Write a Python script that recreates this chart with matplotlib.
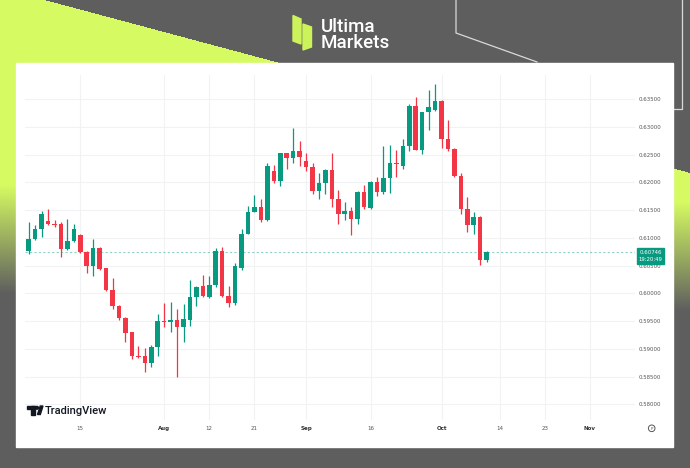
import numpy as np
import matplotlib
matplotlib.use("Agg")
import matplotlib.pyplot as plt
from matplotlib.patches import Rectangle, Polygon, Circle
from matplotlib import transforms

# daily candles, NZD/USD style, early Jul -> 10 Oct
opens = [0.6077, 0.6098, 0.6116, 0.6131, 0.6126, 0.6125, 0.6080, 0.6095, 0.6106, 0.6075,
         0.6049, 0.6082, 0.6045, 0.6007, 0.5978, 0.5956, 0.5930, 0.5888, 0.5887, 0.5875,
         0.5904, 0.5950, 0.5948, 0.5952, 0.5940, 0.5952, 0.5994, 0.6013, 0.5993, 0.6016,
         0.6076, 0.5995, 0.5982, 0.6045, 0.6108, 0.6147, 0.6156, 0.6132, 0.6221, 0.6203,
         0.6253, 0.6244, 0.6257, 0.6238, 0.6228, 0.6185, 0.6199, 0.6223, 0.6170, 0.6144,
         0.6149, 0.6135, 0.6182, 0.6154, 0.6200, 0.6183, 0.6208, 0.6236, 0.6229, 0.6265,
         0.6338, 0.6259, 0.6327, 0.6330, 0.6347, 0.6279, 0.6260, 0.6212, 0.6153, 0.6123,
         0.6137, 0.6060]
highs = [0.6128, 0.6123, 0.6149, 0.6153, 0.6132, 0.6129, 0.6134, 0.6126, 0.6108, 0.6076,
         0.6098, 0.6083, 0.6046, 0.6028, 0.5979, 0.5957, 0.5931, 0.5905, 0.5902, 0.5907,
         0.5962, 0.5982, 0.5985, 0.5972, 0.5980, 0.6025, 0.6013, 0.6034, 0.6031, 0.6081,
         0.6083, 0.6014, 0.6054, 0.6116, 0.6158, 0.6177, 0.6170, 0.6236, 0.6232, 0.6254,
         0.6254, 0.6299, 0.6274, 0.6253, 0.6235, 0.6217, 0.6225, 0.6253, 0.6186, 0.6165,
         0.6156, 0.6185, 0.6196, 0.6202, 0.6209, 0.6266, 0.6268, 0.6259, 0.6278, 0.6341,
         0.6354, 0.6328, 0.6367, 0.6378, 0.6348, 0.6313, 0.6262, 0.6218, 0.6173, 0.6146,
         0.6139, 0.6076]
lows = [0.6071, 0.6096, 0.6102, 0.6123, 0.6119, 0.6065, 0.6078, 0.6092, 0.6072, 0.6036,
        0.6032, 0.6042, 0.6005, 0.5972, 0.5952, 0.5913, 0.5881, 0.5884, 0.5858, 0.5868,
        0.5888, 0.5939, 0.5931, 0.5850, 0.5913, 0.5942, 0.5978, 0.5994, 0.5991, 0.6012,
        0.5994, 0.5975, 0.5979, 0.6042, 0.6107, 0.6146, 0.6128, 0.6131, 0.6199, 0.6194,
        0.6224, 0.6235, 0.6229, 0.6221, 0.6180, 0.6170, 0.6179, 0.6155, 0.6125, 0.6132,
        0.6106, 0.6125, 0.6152, 0.6152, 0.6176, 0.6179, 0.6181, 0.6209, 0.6224, 0.6257,
        0.6258, 0.6251, 0.6295, 0.6329, 0.6263, 0.6257, 0.6210, 0.6144, 0.6111, 0.6107,
        0.6052, 0.6057]
closes = [0.6098, 0.6116, 0.6143, 0.6125, 0.6124, 0.6080, 0.6095, 0.6117, 0.6074, 0.6049,
          0.6082, 0.6044, 0.6006, 0.5978, 0.5956, 0.5929, 0.5887, 0.5886, 0.5875, 0.5904,
          0.5951, 0.5948, 0.5952, 0.5940, 0.5953, 0.5994, 0.6012, 0.5995, 0.6016, 0.6076,
          0.5995, 0.5982, 0.6049, 0.6108, 0.6147, 0.6156, 0.6132, 0.6230, 0.6203, 0.6253,
          0.6244, 0.6257, 0.6246, 0.6228, 0.6185, 0.6199, 0.6223, 0.6171, 0.6144, 0.6149,
          0.6135, 0.6183, 0.6155, 0.6200, 0.6183, 0.6208, 0.6236, 0.6233, 0.6265, 0.6338,
          0.6259, 0.6327, 0.6336, 0.6347, 0.6279, 0.6260, 0.6211, 0.6153, 0.6123, 0.6137,
          0.6060, 0.60746]

# x axis: trading-day index of each label
x_tick_idx = [8, 21, 28, 35, 43, 53, 64, 73, 80, 87]
x_tick_labels = ["15", "Aug", "12", "21", "Sep", "16", "Oct", "14", "23", "Nov"]
month_labels = ["Aug", "Sep", "Oct", "Nov"]
price_levels = [0.580, 0.585, 0.590, 0.595, 0.600, 0.605, 0.610,
                0.615, 0.620, 0.625, 0.630, 0.635]
countdown = "19:20:49"

UP = "#089981"
DOWN = "#f23645"
LIME = np.array([213, 250, 98]) / 255
GREY = np.array([94, 94, 94]) / 255

W, H = 690, 468
fig = plt.figure(figsize=(W / 100, H / 100), dpi=100)

# background layer in pixel coords
bg = fig.add_axes([0, 0, 1, 1])
bg.set_xlim(0, W)
bg.set_ylim(H, 0)
bg.axis("off")

yy, xx = np.mgrid[0:H, 0:W]
lime_mask = yy > 0.268 * (xx - 46)
fade_start = 185 + 0.025 * xx
fade = np.clip((yy - fade_start) / 108.0, 0, 1)
img = np.ones((H, W, 3)) * GREY
mix = lime_mask[..., None] * (1 - fade[..., None])
img = img * (1 - mix) + LIME * mix
bg.imshow(img, extent=[0, W, H, 0], aspect="auto", zorder=0)

# thin outline strokes top right
bg.plot([456, 456, 537], [0, 33, 62], color="#d9d9d9", lw=0.9, zorder=1)
bg.plot([682, 682, 673], [0, 109, 109], color="#d9d9d9", lw=0.9, zorder=1)

# logo
bg.add_patch(Polygon([(293, 15.5), (301, 19), (301, 44), (293, 41)], color="#cdf35a", zorder=2))
bg.add_patch(Polygon([(303, 24), (311.5, 27), (311.5, 47), (303, 50)], color="#cdf35a", zorder=2))
bg.text(321, 31.7, "Ultima", color="white", fontsize=13.5, family="Roboto",
        fontweight="medium", va="baseline", zorder=2)
bg.text(321, 48.3, "Markets", color="white", fontsize=13.5, family="Roboto",
        fontweight="medium", va="baseline", zorder=2)

# white chart panel
bg.add_patch(Rectangle((16, 62.5), 657, 384.5, color="white", zorder=1))

# chart axes
left, right, top, bottom = 25, 635, 75, 420
ax = fig.add_axes([left / W, 1 - bottom / H, (right - left) / W, (bottom - top) / H])
ax.set_facecolor("none")
ax.set_zorder(2)

px_per_day = 6.45
x0 = 28.7
ax.set_xlim((left - x0) / px_per_day, (right - x0) / px_per_day)
ppu = 5545.5
ax.set_ylim(0.635 - (bottom - 99.3) / ppu, 0.635 + (99.3 - top) / ppu)

idx = np.arange(len(closes))
o = np.array(opens)
c = np.array(closes)
colors = [UP if cc >= oo else DOWN for oo, cc in zip(o, c)]
ax.vlines(idx, lows, highs, colors=colors, lw=0.9, zorder=3)
body_h = np.maximum(np.abs(c - o), 0.00019)
ax.bar(idx, body_h, bottom=np.minimum(o, c), width=0.7, color=colors, zorder=4)

ax.axhline(closes[-1], color=UP, lw=0.8, ls=(0, (2, 2)), alpha=0.45, zorder=2)

ax.set_yticks(price_levels)
ax.set_yticklabels([f"{p:.5f}" for p in price_levels])
ax.yaxis.tick_right()
ax.tick_params(axis="y", length=0, pad=2.9, labelsize=3.9, labelcolor="#555555")
ax.set_xticks(x_tick_idx)
ax.set_xticklabels(x_tick_labels)
ax.tick_params(axis="x", length=0, pad=4.3, labelsize=4.0, labelcolor="#555555")
for lab in ax.get_xticklabels():
    if lab.get_text() in month_labels:
        lab.set_fontweight("bold")
        lab.set_color("#333333")
ax.grid(True, color="#f1f2f4", lw=0.8, zorder=0)
for s in ax.spines.values():
    s.set_visible(False)

# last price tag
blend = transforms.blended_transform_factory(bg.transData, ax.transData)
ax.annotate(f"{closes[-1]:.5f}\n{countdown}", xy=(650.5, closes[-1]), xycoords=blend,
            xytext=(0, 1.6), textcoords="offset points", ha="center", va="top",
            fontsize=3.9, color="white", linespacing=1.5, annotation_clip=False, zorder=6,
            bbox=dict(boxstyle="square,pad=0.35", fc=UP, ec=UP))

# overlay: TradingView watermark and settings icon sit above the grid
ov = fig.add_axes([0, 0, 1, 1])
ov.set_zorder(5)
ov.set_facecolor("none")
ov.set_xlim(0, W)
ov.set_ylim(H, 0)
ov.axis("off")
ov.add_patch(Rectangle((27, 406), 8, 3, color="#131722"))
ov.add_patch(Rectangle((31, 406), 4, 8.5, color="#131722"))
ov.add_patch(Circle((37, 407.8), 1.4, color="#131722"))
ov.add_patch(Polygon([(37.5, 414.5), (40.3, 414.5), (43, 406), (40.2, 406)], color="#131722"))
ov.text(45, 414.5, "TradingView", color="#131722", fontsize=8, family="Roboto",
        fontweight="medium", va="baseline")
ov.add_patch(Circle((651.7, 428.3), 3.3, fill=False, ec="#555555", lw=0.7))
ov.text(651.7, 428.5, "P", fontsize=3, color="#555555", ha="center", va="center")

fig.savefig("out.png", dpi=100)
